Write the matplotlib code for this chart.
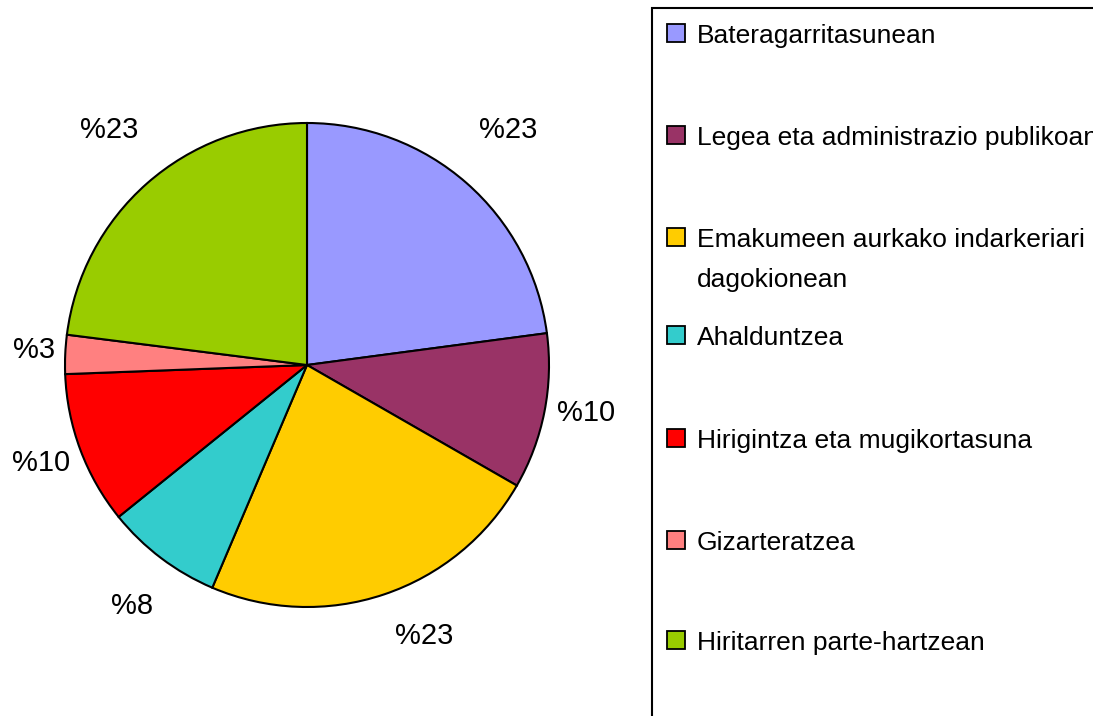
import numpy as np
import matplotlib
matplotlib.use("Agg")
import matplotlib.pyplot as plt
from matplotlib.patches import Rectangle

categories = [
    "Bateragarritasunean",
    "Legea eta administrazio publikoan",
    "Emakumeen aurkako indarkeriari\ndagokionean",
    "Ahalduntzea",
    "Hirigintza eta mugikortasuna",
    "Gizarteratzea",
    "Hiritarren parte-hartzean",
]
values = [22.9, 10.4, 23.1, 7.8, 10.2, 2.6, 23.0]
colors = ["#9999FF", "#993366", "#FFCC00", "#33CCCC", "#FF0000", "#FF8080", "#99CC00"]
label_dist = [1.28, 1.17, 1.22, 1.23, 1.17, 1.13, 1.27]
label_ang_shift = [0.6, 1.4, 4.9, 1.0, -0.3, -0.6, -1.3]

plt.rcParams['font.family'] = ['Liberation Sans', 'DejaVu Sans']

W, H = 1093, 716
fig = plt.figure(figsize=(W / 100, H / 100), dpi=100)

cx, cy, r = 307, 365, 242
ax = fig.add_axes([(cx - r) / W, (H - cy - r) / H, 2 * r / W, 2 * r / H])
wedges, texts = ax.pie(values, colors=colors, startangle=90, counterclock=False,
                       wedgeprops=dict(edgecolor="black", linewidth=1.5),
                       labels=[f"%{v:.0f}" for v in values], labeldistance=1.2,
                       textprops=dict(fontsize=21))
for w, t, d, s in zip(wedges, texts, label_dist, label_ang_shift):
    ang = np.deg2rad((w.theta1 + w.theta2) / 2 + s)
    t.set_position((d * np.cos(ang), d * np.sin(ang)))
    t.set_ha("center")
    t.set_va("center")
    t.set_clip_on(False)
ax.set_xlim(-1, 1)
ax.set_ylim(-1, 1)
ax.set_aspect("auto")
ax.axis("off")

# Legend box
fig.patches.append(Rectangle((652 / W, -10 / H), 500 / W, (H - 8 + 10) / H,
                             transform=fig.transFigure, facecolor="white",
                             edgecolor="black", linewidth=1.5, zorder=0))
entry_y = [33, 135, 237, 335, 438, 540, 640]
for cat, col, yc in zip(categories, colors, entry_y):
    fig.patches.append(Rectangle((667 / W, (H - yc - 9) / H), 18 / W, 18 / H,
                                 transform=fig.transFigure, facecolor=col,
                                 edgecolor="black", linewidth=1.3, zorder=2))
    for k, line in enumerate(cat.split("\n")):
        fig.text(697 / W, (H - yc - 10 - 40 * k) / H, line, fontsize=19,
                 ha="left", va="baseline")

fig.savefig("out.png", dpi=100)
